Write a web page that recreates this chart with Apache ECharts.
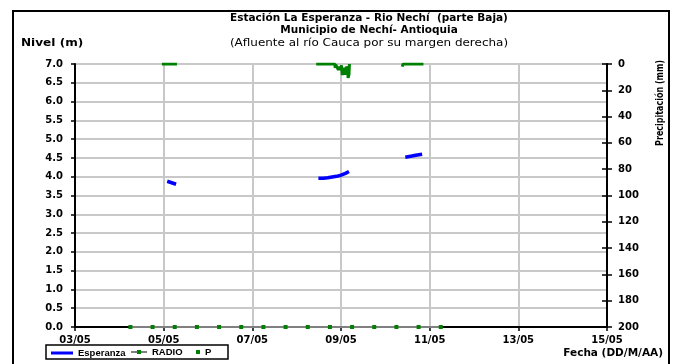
<!DOCTYPE html>
<html>
<head>
<meta charset="utf-8">
<script src="https://cdn.jsdelivr.net/npm/echarts@6/dist/echarts.min.js"></script>
<style>
  html, body { margin: 0; padding: 0; background: #fff; }
  #main { width: 673px; height: 364px; }
</style>
</head>
<body>
<div id="main"></div>
<script>
// datos (día de mayo, con decimales = hora del día)
var xTickLabels = ['03/05', '05/05', '07/05', '09/05', '11/05', '13/05', '15/05'];
var dayStart = 3;

// nivel Esperanza (m); null = sin dato
var espDays  = [5.08, 5.18, 5.28, null, 8.49, 8.6, 8.7, 8.8, 8.9, 9.0, 9.1, 9.18, null, 10.45, 10.6, 10.72, 10.83];
var espLevel = [3.88, 3.84, 3.80, null, 3.96, 3.96, 3.97, 3.99, 4.01, 4.04, 4.09, 4.14, null, 4.52, 4.55, 4.58, 4.60];

// RADIO (cada 12 horas)
var radioDays = [4.25, 4.75, 5.25, 5.75, 6.25, 6.75, 7.25, 7.75, 8.25, 8.75, 9.25, 9.75, 10.25, 10.75, 11.25];
var radioVals = [0, 0, 0, 0, 0, 0, 0, 0, 0, 0, 0, 0, 0, 0, 0];

// precipitacion P (mm)
var pDays = [4.96, 5.04, 5.12, 5.2, 5.3, null,
             8.44, 8.6, 8.75, 8.86, 8.87, 8.88, 8.92, 8.94, 8.96, 8.99, 9.01, 9.03, 9.05, 9.08, 9.1, 9.12, 9.15, 9.16, 9.18, 9.19, null,
             10.38, 10.4, 10.5, 10.6, 10.7, 10.86];
var pVals = [0, 0, 0, 0, 0, null,
             0, 0, 0, 0, 3, 0.5, 1, 4.5, 2, 4.5, 1, 8.4, 3, 4, 8, 2, 4, 10.6, 8, 0, null,
             2, 0, 0, 0, 0, 0];

var rightTicks = { min: 0, max: 200, interval: 20 };
var leftTicks = { min: 0, max: 7, interval: 0.5 };

function pairs(days, vals) {
    return days.map(function (d, i) {
        if (d == null || vals[i] == null) return ['-', '-'];
        return [d - dayStart, vals[i]];
    });
}

var FONT = 'DejaVu Sans';
var lbl = { color: '#000', fontFamily: FONT, fontWeight: 'bold', fontSize: 10 };
var legTxt = { color: '#000', fontFamily: 'Liberation Sans', fontWeight: 'bold', fontSize: 9.5 };

var chart = echarts.init(document.getElementById('main'));
var option = {
    animation: false,
    backgroundColor: '#fff',
    grid: { left: 75, top: 64, width: 532, height: 263 },
    xAxis: {
        type: 'value', min: 0, max: 12, interval: 2,
        axisLine: { lineStyle: { color: '#000', width: 2 } },
        axisTick: { length: 4, lineStyle: { color: '#000', width: 1.5 } },
        axisLabel: Object.assign({ margin: 8, formatter: function (v) { return xTickLabels[Math.round(v / 2)]; } }, lbl),
        splitLine: { lineStyle: { color: '#c8c8c8', width: 2 } }
    },
    yAxis: [
        {
            type: 'value', position: 'left', min: leftTicks.min, max: leftTicks.max, interval: leftTicks.interval,
            axisLine: { show: true, lineStyle: { color: '#000', width: 2 } },
            axisTick: { show: true, length: 4, lineStyle: { color: '#000', width: 1.5 } },
            axisLabel: Object.assign({ margin: 12, formatter: function (v) { return v.toFixed(1); } }, lbl),
            splitLine: { lineStyle: { color: '#c8c8c8', width: 2 } }
        },
        {
            type: 'value', position: 'right', inverse: true,
            min: rightTicks.min, max: rightTicks.max, interval: rightTicks.interval,
            axisLine: { show: true, lineStyle: { color: '#000', width: 2 } },
            axisTick: { show: true, length: 5, lineStyle: { color: '#000', width: 1.5 } },
            axisLabel: Object.assign({ margin: 11 }, lbl),
            splitLine: { show: false }
        },
        {
            type: 'value', position: 'right', inverse: true,
            min: rightTicks.min, max: rightTicks.max, interval: rightTicks.interval,
            axisLine: { show: false },
            axisTick: { show: true, inside: true, length: 5, lineStyle: { color: '#000', width: 1.5 } },
            axisLabel: { show: false },
            splitLine: { show: false }
        }
    ],
    legend: [
        {
            data: [{ name: 'Esperanza', icon: 'rect' }],
            left: 51, top: 348, itemWidth: 22, itemHeight: 3, padding: 0,
            textStyle: legTxt
        },
        {
            data: ['RADIO'],
            left: 130, top: 347, itemWidth: 16, itemHeight: 5, padding: 0,
            textStyle: legTxt
        },
        {
            data: [{ name: 'P', icon: 'rect' }],
            left: 196, top: 347, itemWidth: 4, itemHeight: 4, padding: 0,
            textStyle: legTxt
        }
    ],
    series: [
        {
            name: 'Esperanza', type: 'line', yAxisIndex: 0,
            data: pairs(espDays, espLevel),
            symbol: 'none', connectNulls: false,
            lineStyle: { color: '#0000ff', width: 3.5 },
            itemStyle: { color: '#0000ff' }
        },
        {
            name: 'RADIO', type: 'line', yAxisIndex: 0,
            data: pairs(radioDays, radioVals),
            symbol: 'rect', symbolSize: 4,
            lineStyle: { color: '#808080', width: 2 },
            itemStyle: { color: '#008000' }
        },
        {
            name: 'P', type: 'line', yAxisIndex: 1,
            data: pairs(pDays, pVals),
            symbol: 'none', connectNulls: false,
            lineStyle: { color: '#008000', width: 3 },
            itemStyle: { color: '#008000' }
        }
    ],
    graphic: [
        { type: 'rect', shape: { x: 13, y: 11, width: 656, height: 370 }, style: { fill: 'none', stroke: '#000', lineWidth: 2 }, silent: true },
        { type: 'rect', shape: { x: 46, y: 345, width: 182, height: 14 }, style: { fill: 'none', stroke: '#000', lineWidth: 1.5 }, silent: true },
        { type: 'text', x: 369, y: 18, style: { text: 'Estación La Esperanza - Rio Nechí  (parte Baja)', fill: '#000', font: 'bold 10.5px "' + FONT + '"', align: 'center', verticalAlign: 'middle' } },
        { type: 'text', x: 369, y: 30, style: { text: 'Municipio de Nechí- Antioquia', fill: '#000', font: 'bold 10.5px "' + FONT + '"', align: 'center', verticalAlign: 'middle' } },
        { type: 'text', x: 369, y: 43, scaleX: 1.14, style: { text: '(Afluente al río Cauca por su margen derecha)', fill: '#000', font: '10.5px "' + FONT + '"', align: 'center', verticalAlign: 'middle' } },
        { type: 'text', x: 21, y: 43, scaleX: 1.15, style: { text: 'Nivel (m)', fill: '#000', font: 'bold 10.5px "' + FONT + '"', align: 'left', verticalAlign: 'middle' } },
        { type: 'text', x: 663, y: 353, style: { text: 'Fecha (DD/M/AA)', fill: '#000', font: 'bold 10.5px "' + FONT + '"', align: 'right', verticalAlign: 'middle' } },
        { type: 'text', x: 660, y: 103, rotation: Math.PI / 2, scaleX: 0.8, style: { text: 'Precipitación (mm)', fill: '#000', font: 'bold 10px "' + FONT + '"', align: 'center', verticalAlign: 'middle' } }
    ]
};
chart.setOption(option);
</script>
</body>
</html>
